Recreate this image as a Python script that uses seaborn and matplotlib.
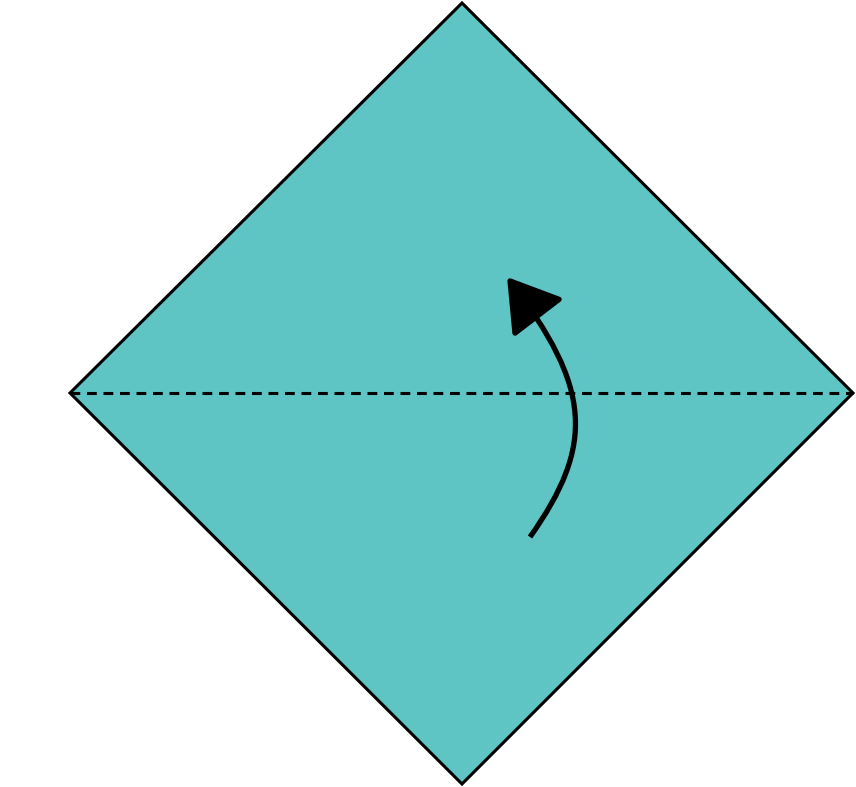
import matplotlib
matplotlib.use("Agg")
import matplotlib.pyplot as plt
import seaborn as sns
import pandas as pd
from matplotlib.path import Path
from matplotlib.patches import FancyArrowPatch, Polygon

# Diamond (square sheet) vertices, in pixel-like units (y grows downward)
diamond_x = [462, 853, 462, 70]
diamond_y = [3, 393, 784, 393]
# Fold line (valley fold, dashed)
fold_x = [70, 853]
fold_y = [393, 393]
# Curved fold arrow: cubic Bezier control points
arrow_x = [530, 595, 592, 507]
arrow_y = [537, 445, 388, 277]

sheet_color = "#5EC4C4"

sns.set_theme(style="white")
fig = plt.figure(figsize=(8.56, 7.87), dpi=100)
ax = fig.add_axes([0, 0, 1, 1])

poly = Polygon(list(zip(diamond_x, diamond_y)), closed=True,
               facecolor=sheet_color, edgecolor="black", linewidth=2.2,
               joinstyle="miter", zorder=1)
ax.add_patch(poly)

fold_df = pd.DataFrame({"x": fold_x, "y": fold_y})
sns.lineplot(data=fold_df, x="x", y="y", ax=ax, color="black",
             linewidth=2.2, zorder=2, sort=False)
ax.lines[-1].set_dashes([3.2, 2.2])

path = Path(list(zip(arrow_x, arrow_y)),
            [Path.MOVETO, Path.CURVE4, Path.CURVE4, Path.CURVE4])
arrow = FancyArrowPatch(path=path,
                        arrowstyle="-|>,head_length=32,head_width=20",
                        mutation_scale=1, shrinkA=0, shrinkB=0,
                        color="black", linewidth=3.8, zorder=3,
                        capstyle="butt")
ax.add_patch(arrow)

ax.set_xlim(0, 856)
ax.set_ylim(787, 0)
ax.axis("off")

fig.savefig("out.png", dpi=100)
